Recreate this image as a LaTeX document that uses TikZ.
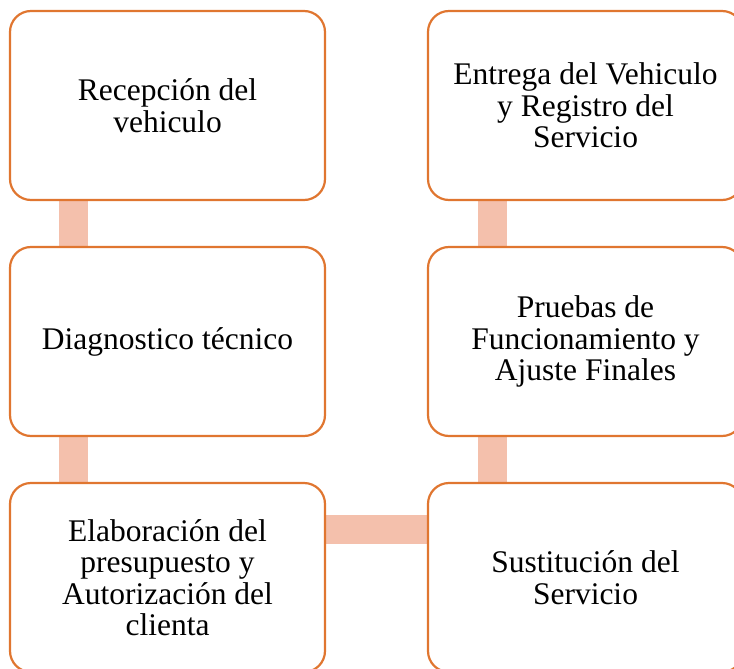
\documentclass[tikz,border=0pt]{standalone}
\usepackage{fontspec}
\setmainfont{Liberation Serif}
\definecolor{boxline}{RGB}{224,118,48}
\definecolor{connfill}{RGB}{244,192,172}
\begin{document}
\begin{tikzpicture}[x=1pt,y=-1pt,
  stepbox/.style={draw=boxline, line width=2.2pt, fill=white, rounded corners=21pt,
    minimum width=315pt, minimum height=189pt, inner sep=0pt, align=center,
    font=\fontsize{31.5}{31.5}\selectfont},
  conn/.style={fill=connfill, draw=none}]
\useasboundingbox (0,0) rectangle (734,669);
\clip (0,0) rectangle (734,669);
% node positions (centres)
\coordinate (pa) at (167.5,105.5);
\coordinate (pb) at (167.5,341.5);
\coordinate (pc) at (167.5,577.5);
\coordinate (pd) at (585.5,577.5);
\coordinate (pe) at (585.5,341.5);
\coordinate (pf) at (585.5,105.5);
% connectors (drawn behind)
\path (pa) node[stepbox, draw=none, fill=none] (a0) {};
\path (pb) node[stepbox, draw=none, fill=none] (b0) {};
\path (pc) node[stepbox, draw=none, fill=none] (c0) {};
\path (pd) node[stepbox, draw=none, fill=none] (d0) {};
\path (pe) node[stepbox, draw=none, fill=none] (e0) {};
\path (pf) node[stepbox, draw=none, fill=none] (f0) {};
\fill[conn] ([xshift=50pt]a0.south west) rectangle ([xshift=79pt]b0.north west);
\fill[conn] ([xshift=50pt]b0.south west) rectangle ([xshift=79pt]c0.north west);
\fill[conn] ([yshift=-33pt]c0.north east) rectangle ([yshift=-62pt]d0.north west);
\fill[conn] ([xshift=51pt]d0.north west) rectangle ([xshift=80pt]e0.south west);
\fill[conn] ([xshift=51pt]e0.north west) rectangle ([xshift=80pt]f0.south west);
% boxes
\node[stepbox] (a) at (pa) {Recepción del\\vehiculo};
\node[stepbox] (b) at (pb) {Diagnostico técnico};
\node[stepbox] (c) at (pc) {Elaboración del\\presupuesto y\\Autorización del\\clienta};
\node[stepbox] (d) at (pd) {Sustitución del\\Servicio};
\node[stepbox] (e) at (pe) {Pruebas de\\Funcionamiento y\\Ajuste Finales};
\node[stepbox] (f) at (pf) {Entrega del Vehiculo\\y Registro del\\Servicio};
\end{tikzpicture}
\end{document}
